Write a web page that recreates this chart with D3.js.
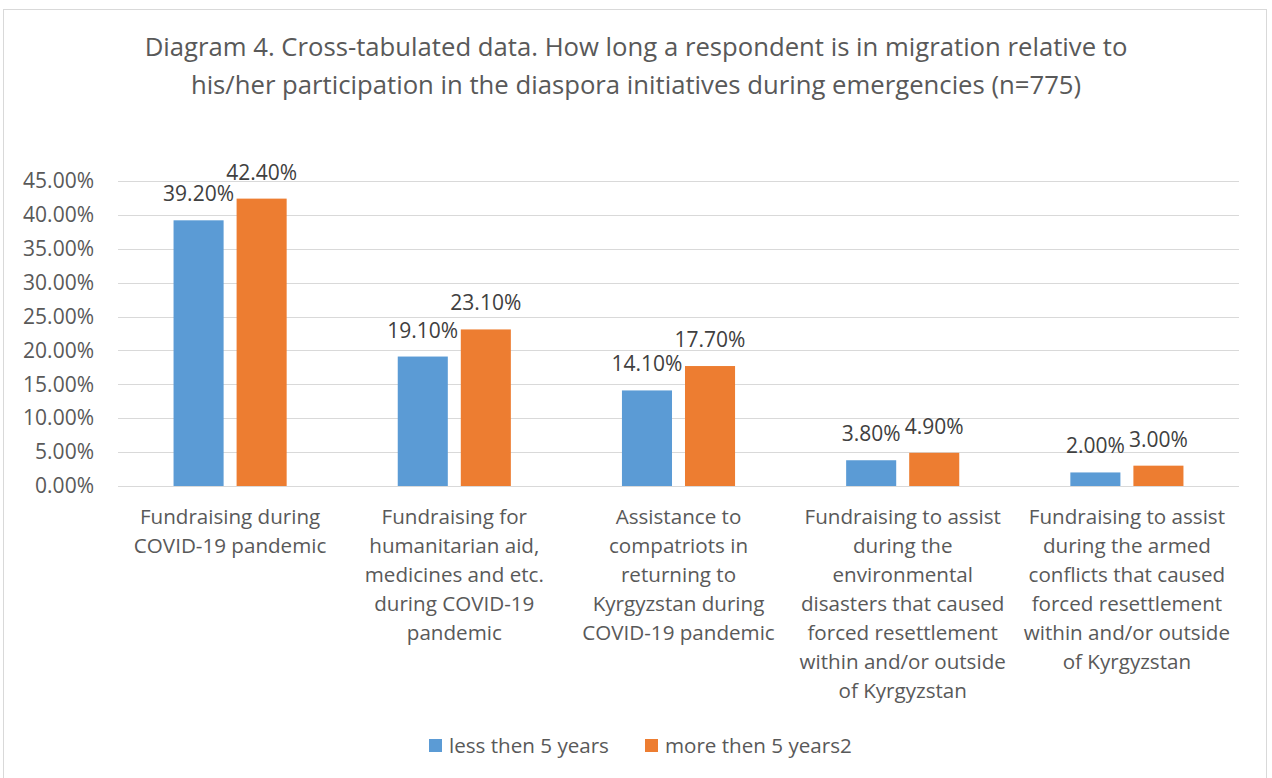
<!DOCTYPE html>
<html>
<head>
<meta charset="utf-8">
<script src="https://cdn.jsdelivr.net/npm/d3@7"></script>
<style>
  html, body { margin:0; padding:0; background:#fff; }
  svg { display:block; font-family: 'Open Sans', Lato, sans-serif; }
</style>
</head>
<body>
<div id="chart"></div>
<script>
// Diagram 4 -- clustered columns, Excel-like styling

const TITLE_LINES = [
  "Diagram 4. Cross-tabulated data. How long a respondent is in migration relative to",
  "his/her participation in the diaspora initiatives during emergencies (n=775)"
];

const CATEGORIES = [
  ["Fundraising during", "COVID-19 pandemic"],
  ["Fundraising for", "humanitarian aid,", "medicines and etc.", "during COVID-19", "pandemic"],
  ["Assistance to", "compatriots in", "returning to", "Kyrgyzstan during", "COVID-19 pandemic"],
  ["Fundraising to assist", "during the", "environmental", "disasters that caused", "forced resettlement", "within and/or outside", "of Kyrgyzstan"],
  ["Fundraising to assist", "during the armed", "conflicts that caused", "forced resettlement", "within and/or outside", "of Kyrgyzstan"]
];

const SERIES = ["less then 5 years", "more then 5 years2"];
const COLORS = ["#5B9BD5", "#ED7D31"];

const LESS_THAN_5 = [0.392, 0.191, 0.141, 0.038, 0.020];
const MORE_THAN_5 = [0.424, 0.231, 0.177, 0.049, 0.030];

const Y_TICKS = [0, 0.05, 0.10, 0.15, 0.20, 0.25, 0.30, 0.35, 0.40, 0.45];

const W = 1272, H = 778;
const plot = { left: 118, right: 1239, top: 181, bottom: 486 };
const FS = "20.6px";

const svg = d3.select("#chart").append("svg")
  .attr("width", W).attr("height", H);

// chart area frame
svg.append("rect").attr("x", 3.5).attr("y", 9.5).attr("width", 1263).attr("height", 775)
  .attr("fill", "#fff").attr("stroke", "#d9d9d9").attr("stroke-width", 1);

// title
svg.append("g").selectAll("text").data(TITLE_LINES).join("text")
  .attr("x", 636).attr("y", (d, i) => 56 + i * 38)
  .attr("text-anchor", "middle").attr("fill", "#595959")
  .style("font-size", "25.7px")
  .text(d => d);

const x0 = d3.scaleBand().domain(d3.range(CATEGORIES.length))
  .range([plot.left, plot.right]).paddingInner(0).paddingOuter(0);

const x1 = d3.scaleBand().domain(d3.range(SERIES.length))
  .range([0, x0.bandwidth()]).paddingInner(0.206).paddingOuter(0.881);

const y = d3.scaleLinear().domain([0, 0.45]).range([plot.bottom, plot.top]);

// gridlines
svg.append("g").selectAll("line").data(Y_TICKS).join("line")
  .attr("x1", plot.left).attr("x2", plot.right)
  .attr("y1", d => Math.round(y(d)) + 0.5).attr("y2", d => Math.round(y(d)) + 0.5)
  .attr("stroke", "#d9d9d9").attr("stroke-width", 1);

// y axis labels
svg.append("g").attr("transform", `translate(${plot.left - 24},0)`)
  .call(d3.axisLeft(y).tickValues(Y_TICKS).tickFormat(d3.format(".2%")).tickSize(0).tickPadding(0))
  .call(a => a.select(".domain").remove())
  .call(a => a.selectAll("text").attr("fill", "#595959")
    .style("font-family", "'Open Sans', Lato, sans-serif").style("font-size", "21px"));

// bars
const rows = CATEGORIES.map((c, i) => [LESS_THAN_5[i], MORE_THAN_5[i]]);

const groups = svg.append("g").selectAll("g").data(rows).join("g")
  .attr("transform", (d, i) => `translate(${x0(i)},0)`);

groups.selectAll("rect").data(d => d).join("rect")
  .attr("x", (d, j) => x1(j)).attr("width", x1.bandwidth())
  .attr("y", d => y(d)).attr("height", d => y(0) - y(d))
  .attr("fill", (d, j) => COLORS[j]);

groups.selectAll("text").data(d => d).join("text")
  .attr("x", (d, j) => x1(j) + x1.bandwidth() / 2)
  .attr("y", d => y(d) - 19)
  .attr("text-anchor", "middle").attr("fill", "#404040")
  .style("font-size", "21px")
  .text(d => d3.format(".2%")(d));

// category labels
svg.append("g").selectAll("text").data(CATEGORIES).join("text")
  .attr("text-anchor", "middle").attr("fill", "#595959")
  .style("font-size", FS)
  .each(function(lines, i) {
    d3.select(this).selectAll("tspan").data(lines).join("tspan")
      .attr("x", x0(i) + x0.bandwidth() / 2)
      .attr("y", (d, k) => 524 + k * 29)
      .text(d => d);
  });

// legend
const legend = svg.append("g");
const legendX = [429, 645];
SERIES.forEach((s, i) => {
  legend.append("rect").attr("x", legendX[i]).attr("y", 739).attr("width", 13).attr("height", 13)
    .attr("fill", COLORS[i]);
  legend.append("text").attr("x", legendX[i] + 20).attr("y", 753)
    .attr("fill", "#595959").style("font-size", FS).text(s);
});
</script>
</body>
</html>
